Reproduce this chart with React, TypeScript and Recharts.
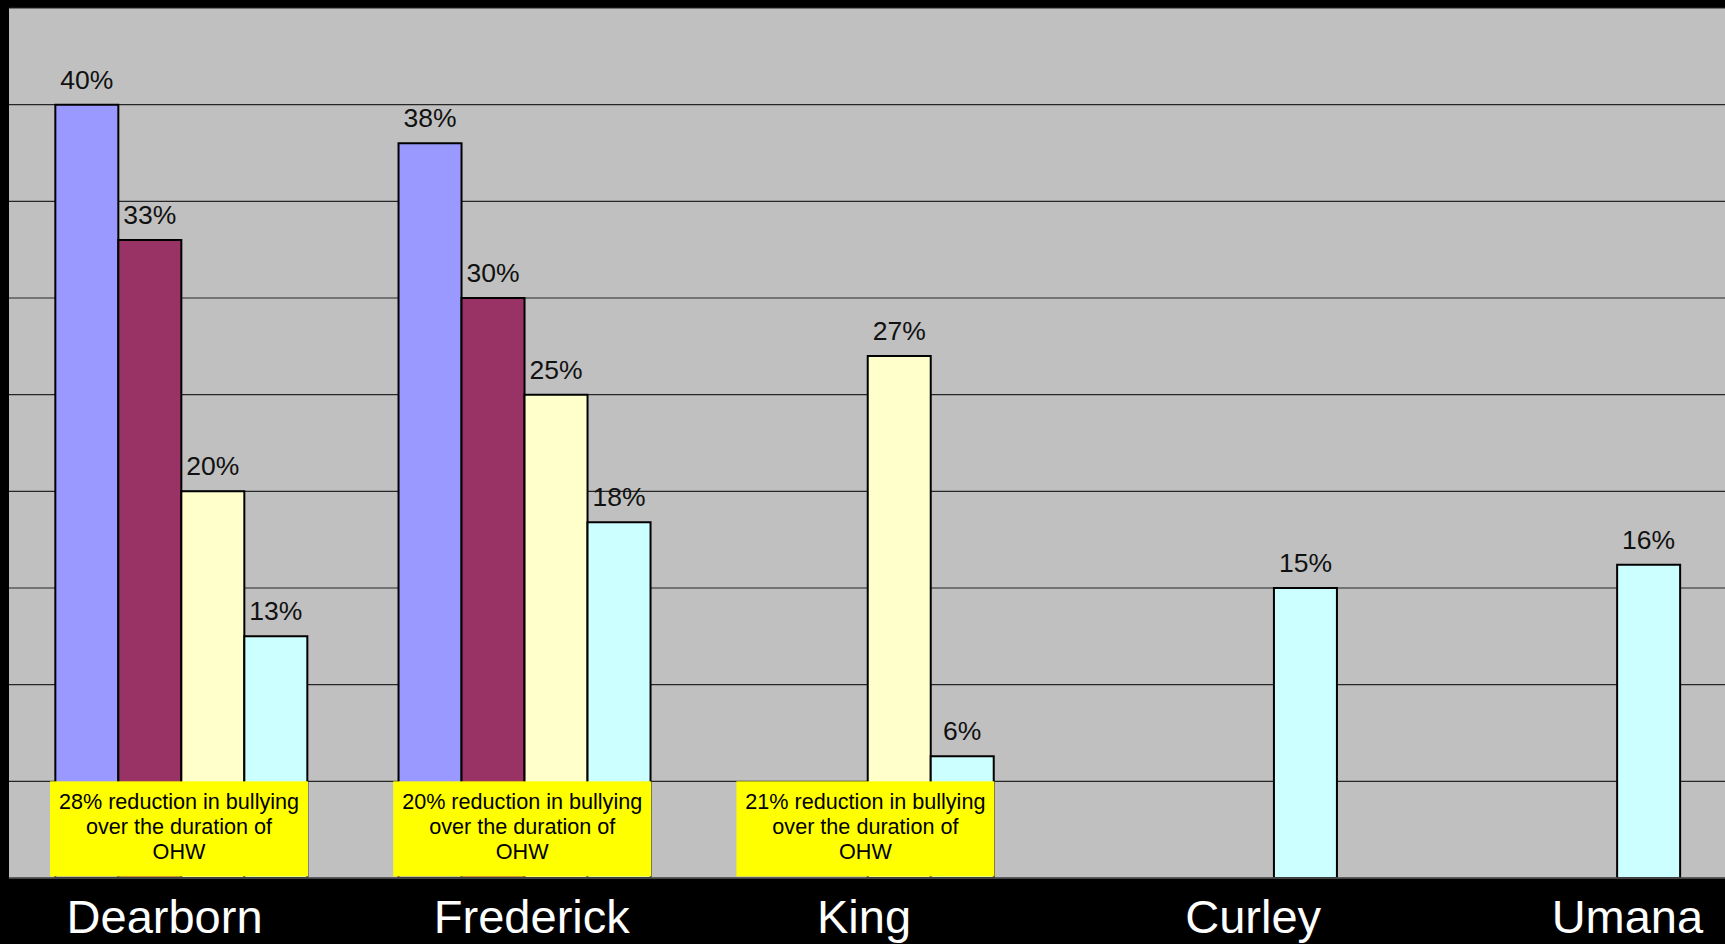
import React from "react";
import {
  BarChart,
  Bar,
  XAxis,
  YAxis,
  CartesianGrid,
  LabelList,
  ReferenceArea,
} from "recharts";

const SCHOOLS = ["Dearborn", "Frederick", "King", "Curley", "Umana"];
const SERIES_1 = [40, 38, null, null, null];
const SERIES_2 = [33, 30, null, null, null];
const SERIES_3 = [20, 25, 27, null, null];
const SERIES_4 = [12.5, 18.4, 6.3, 15, 16.2];
const Y_TICKS = [0, 5, 10, 15, 20, 25, 30, 35, 40, 45];

const NOTE_SCHOOLS = ["Dearborn", "Frederick", "King"];
const NOTE_LINES = [
  ["28% reduction in bullying", "over the duration of", "OHW"],
  ["20% reduction in bullying", "over the duration of", "OHW"],
  ["21% reduction in bullying", "over the duration of", "OHW"],
];

// the school names sit a little off the band centres in the original slide
const LABEL_SHIFT = [-16, 8, -3, 43, 74];

const COLORS = ["#9999ff", "#993366", "#ffffcc", "#ccffff"];
const FONT = "'Liberation Sans', Arial, Helvetica, sans-serif";

const data = SCHOOLS.map((name, i) => ({
  name,
  s1: SERIES_1[i],
  s2: SERIES_2[i],
  s3: SERIES_3[i],
  s4: SERIES_4[i],
}));

const fmt = (v: any) => (v == null ? "" : `${Math.round(Number(v))}%`);

function SchoolTick(props: any) {
  const { x, y, payload, index } = props;
  return (
    <text
      x={x + (LABEL_SHIFT[index] ?? 0)}
      y={y + 55}
      textAnchor="middle"
      fill="#ffffff"
      fontSize={47}
      fontFamily={FONT}
    >
      {payload.value}
    </text>
  );
}

function NoteBox(props: any) {
  const { x, y, height, lines } = props;
  if (x == null || y == null) return null;
  const bx = x + 41;
  const bw = 258;
  const cx = bx + bw / 2;
  return (
    <g>
      <rect x={bx} y={y} width={bw} height={height - 1.5} fill="#ffff00" />
      {lines.map((line: string, i: number) => (
        <text
          key={i}
          x={cx}
          y={y + 28 + i * 25}
          textAnchor="middle"
          fill="#000000"
          fontSize={21.6}
          fontFamily={FONT}
        >
          {line}
        </text>
      ))}
    </g>
  );
}

export default function App() {
  return (
    <div
      style={{
        position: "absolute",
        left: 0,
        top: 0,
        width: 1725,
        height: 944,
        background: "#000000",
        overflow: "hidden",
      }}
    >
      <BarChart
        width={1725}
        height={944}
        data={data}
        margin={{ top: 8, right: 0, bottom: 0, left: 9 }}
        barCategoryGap="13.5%"
        barGap={0}
      >
        <CartesianGrid
          vertical={false}
          fill="#c0c0c0"
          fillOpacity={1}
          stroke="#262626"
          strokeWidth={1.2}
        />
        <YAxis hide domain={[0, 45]} ticks={Y_TICKS} allowDataOverflow />
        <XAxis
          dataKey="name"
          height={66}
          axisLine={{ stroke: "#555555", strokeWidth: 1.5 }}
          tickLine={false}
          tickSize={0}
          tickMargin={0}
          tick={<SchoolTick />}
          interval={0}
        />
        {["s1", "s2", "s3", "s4"].map((key, i) => (
          <Bar
            key={key}
            dataKey={key}
            fill={COLORS[i]}
            stroke="#000000"
            strokeWidth={2}
            isAnimationActive={false}
          >
            <LabelList
              dataKey={key}
              position="top"
              offset={16}
              formatter={fmt}
              fill="#111111"
              fontSize={26.5}
              fontFamily={FONT}
            />
          </Bar>
        ))}
        {NOTE_SCHOOLS.map((school, i) => (
          <ReferenceArea
            key={school}
            x1={school}
            x2={school}
            y1={0}
            y2={5}
            zIndex={1500}
            ifOverflow="visible"
            shape={(p: any) => <NoteBox {...p} lines={NOTE_LINES[i]} />}
          />
        ))}
      </BarChart>
    </div>
  );
}
